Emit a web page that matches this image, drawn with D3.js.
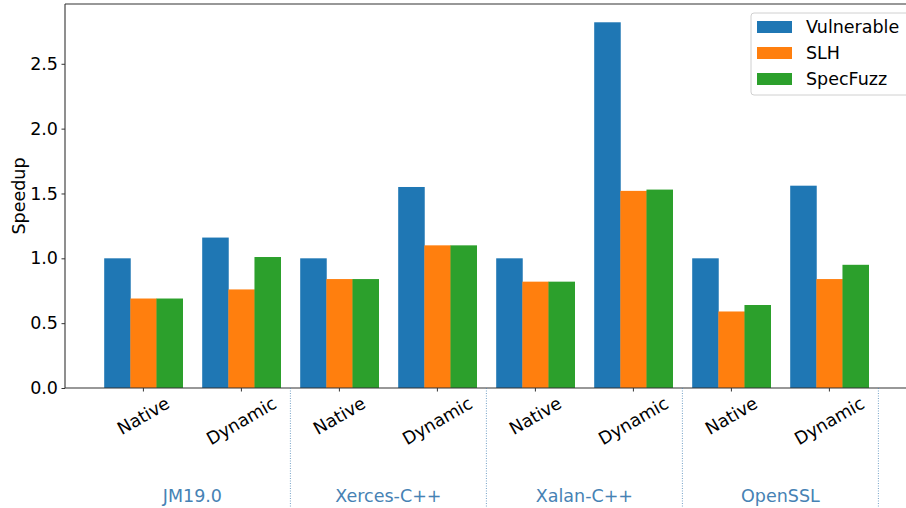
<!DOCTYPE html>
<html>
<head>
<meta charset="utf-8">
<script src="https://cdn.jsdelivr.net/npm/d3@7"></script>
<style>
  body { margin: 0; background: #fff; }
  svg { display: block; }
  text { font-family: "DejaVu Sans", sans-serif; }
</style>
</head>
<body>
<div id="chart"></div>
<script>
let programs = ["JM19.0", "Xerces-C++", "Xalan-C++", "OpenSSL"];
let modes = ["Native", "Dynamic"];
let series = ["Vulnerable", "SLH", "SpecFuzz"];
let vulnerable = [1.0, 1.16, 1.0, 1.55, 1.0, 2.82, 1.0, 1.56];
let slh = [0.69, 0.76, 0.84, 1.10, 0.82, 1.52, 0.59, 0.84];
let specfuzz = [0.69, 1.01, 0.84, 1.10, 0.82, 1.53, 0.64, 0.95];
let yTicks = [0.0, 0.5, 1.0, 1.5, 2.0, 2.5];

let colors = ["#1f77b4", "#ff7f0e", "#2ca02c"];
let values = [vulnerable, slh, specfuzz];
let fs = 17.5;

// one x slot per (program, mode) pair
let categories = [];
programs.forEach((p) => modes.forEach((m) => categories.push({ program: p, mode: m })));

let width = 906,
  height = 508,
  plotLeft = 65,
  plotTop = 4,
  plotBottom = 388;

let svg = d3
  .select("#chart")
  .append("svg")
  .attr("width", width)
  .attr("height", height);

let x = d3.scaleLinear().domain([-0.8, categories.length - 0.2]).range([plotLeft, plotLeft + 8.6 * 98]);
let yMax = d3.max(values.flat()) * 1.05;
let y = d3.scaleLinear().domain([0, yMax]).range([plotBottom, plotTop]);

let barW = x(0.8 / 3) - x(0);

//bars
values.forEach((vals, s) => {
  svg
    .append("g")
    .selectAll("rect")
    .data(vals)
    .join("rect")
    .attr("x", (d, i) => x(i + (s - 1) * 0.8 / 3) - barW / 2)
    .attr("y", (d) => y(d))
    .attr("width", barW + 0.4)
    .attr("height", (d) => y(0) - y(d))
    .attr("fill", colors[s]);
});

//spines
let spine = "#333";
svg.append("line").attr("x1", plotLeft).attr("x2", plotLeft).attr("y1", plotTop).attr("y2", plotBottom)
  .attr("stroke", spine).attr("stroke-width", 1.1);
svg.append("line").attr("x1", plotLeft).attr("x2", width).attr("y1", plotTop).attr("y2", plotTop)
  .attr("stroke", spine).attr("stroke-width", 1.1);
svg.append("line").attr("x1", plotLeft).attr("x2", width).attr("y1", plotBottom).attr("y2", plotBottom)
  .attr("stroke", spine).attr("stroke-width", 1.1);

//y axis
let yAxis = svg
  .append("g")
  .attr("transform", `translate(${plotLeft},0)`)
  .call(d3.axisLeft(y).tickValues(yTicks).tickFormat(d3.format(".1f")).tickSize(3.5).tickPadding(3.5));
yAxis.select(".domain").remove();
yAxis.selectAll("line").attr("stroke", spine);
yAxis.selectAll("text").attr("font-size", fs).attr("fill", "#000")
  .attr("font-family", "DejaVu Sans, sans-serif");

svg
  .append("text")
  .attr("transform", `translate(25,${(plotTop + plotBottom) / 2}) rotate(-90)`)
  .attr("text-anchor", "middle")
  .attr("font-size", fs)
  .text("Speedup");

//x ticks and rotated labels
categories.forEach((c, i) => {
  svg.append("line").attr("x1", x(i)).attr("x2", x(i)).attr("y1", plotBottom).attr("y2", plotBottom + 3.5)
    .attr("stroke", spine);
  let t = svg
    .append("text")
    .attr("font-size", fs)
    .attr("text-anchor", "middle")
    .attr("dominant-baseline", "central")
    .text(c.mode);
  let w = t.node().getComputedTextLength();
  let h = fs * 1.16;
  let a = Math.PI / 6;
  let boxH = w * Math.sin(a) + h * Math.cos(a);
  t.attr("transform", `translate(${x(i)},${plotBottom + 5 + boxH / 2}) rotate(-30)`);
});

//group separators and program labels
programs.forEach((p, g) => {
  let sep = x(2 * g + 1.5);
  svg
    .append("line")
    .attr("x1", sep)
    .attr("x2", sep)
    .attr("y1", plotBottom)
    .attr("y2", height)
    .attr("stroke", "#4682b4")
    .attr("stroke-opacity", 0.75)
    .attr("stroke-width", 1)
    .attr("stroke-dasharray", "1,1.5");
  svg
    .append("text")
    .attr("x", x(2 * g + 0.5))
    .attr("y", 502)
    .attr("text-anchor", "middle")
    .attr("font-size", fs)
    .attr("fill", "#4682b4")
    .text(p);
});

//legend
let legend = svg.append("g").attr("transform", "translate(751,13)");
legend
  .append("rect")
  .attr("width", 170)
  .attr("height", 82)
  .attr("rx", 3)
  .attr("fill", "#fff")
  .attr("fill-opacity", 0.8)
  .attr("stroke", "#d0d0d0");
series.forEach((s, i) => {
  legend
    .append("rect")
    .attr("x", 6)
    .attr("y", 8 + i * 26)
    .attr("width", 35)
    .attr("height", 12)
    .attr("fill", colors[i]);
  legend
    .append("text")
    .attr("x", 55)
    .attr("y", 14 + i * 26)
    .attr("dominant-baseline", "central")
    .attr("font-size", fs)
    .text(s);
});
</script>
</body>
</html>
